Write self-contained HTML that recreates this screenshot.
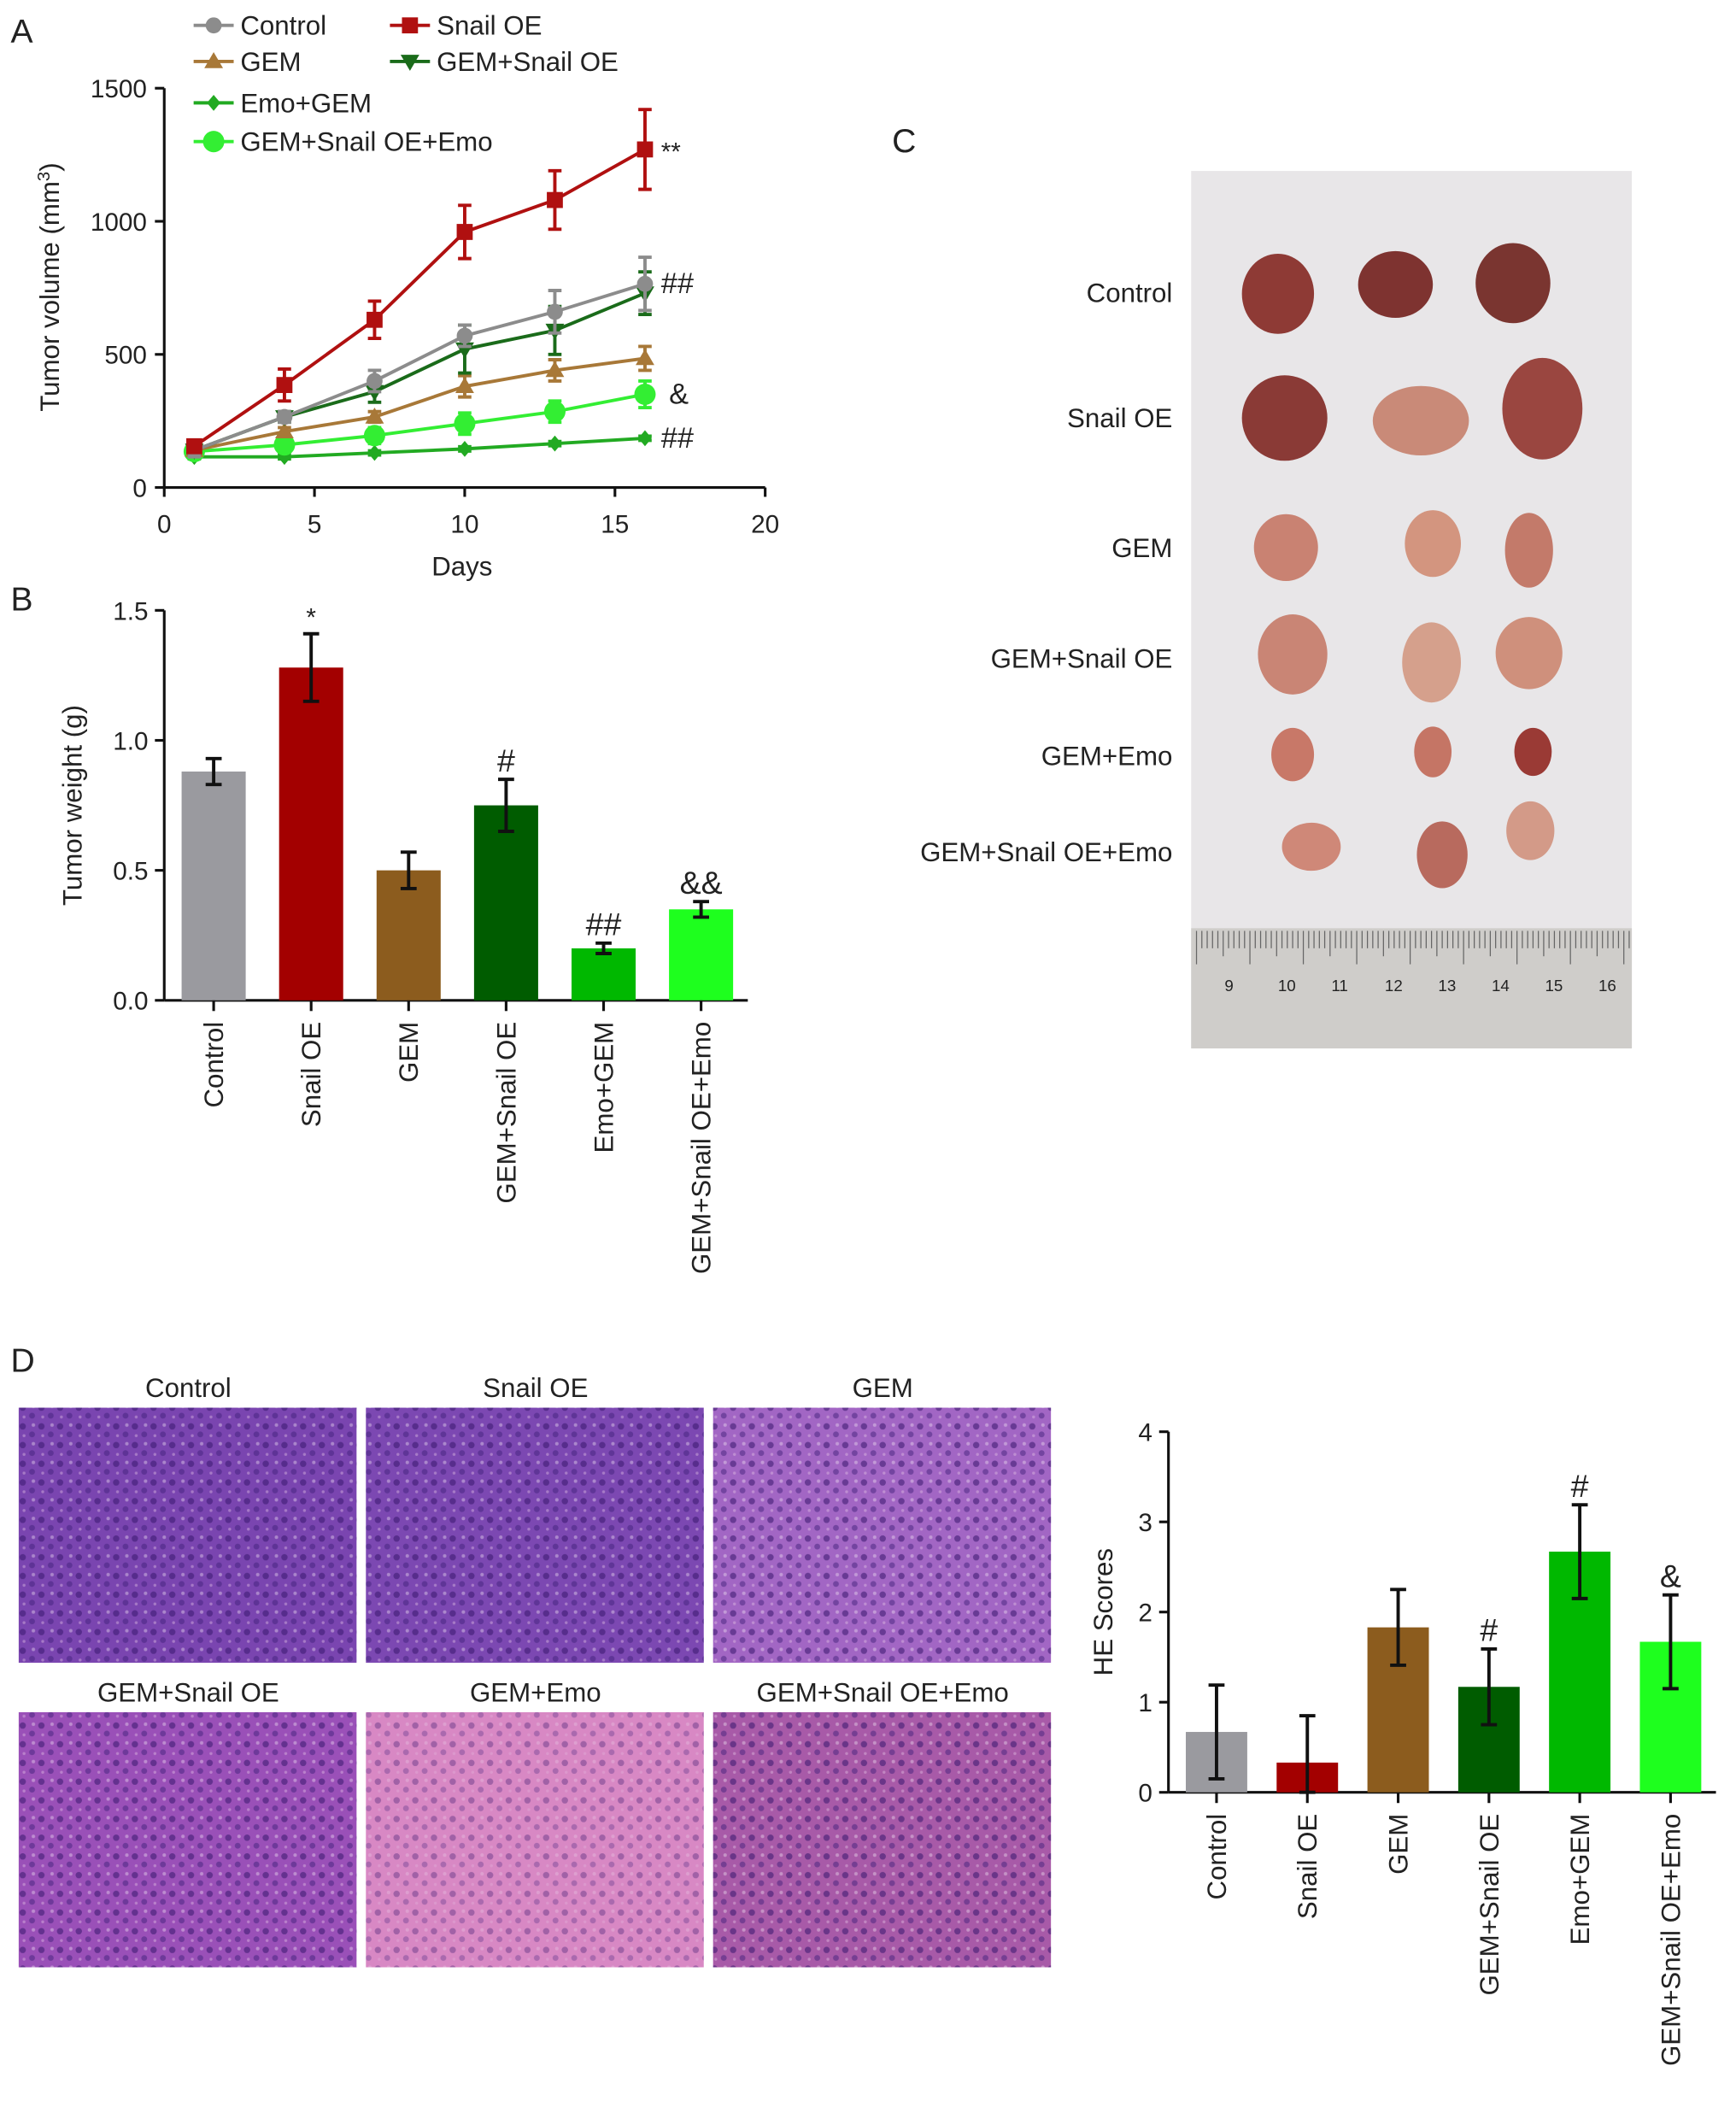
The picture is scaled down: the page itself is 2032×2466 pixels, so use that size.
<!DOCTYPE html>
<html><head><meta charset="utf-8"><style>
html,body{margin:0;padding:0;background:#fff}
svg{display:block}
text{font-family:"Liberation Sans",Arial,sans-serif;fill:#222}
</style></head><body>
<svg id="fig" width="2032" height="2466" viewBox="0 0 1300 1577.6" preserveAspectRatio="none" xmlns="http://www.w3.org/2000/svg">
<defs>
<pattern id="cells" width="14" height="14" patternUnits="userSpaceOnUse">
<circle cx="3" cy="4" r="2.4" fill="#3a1870" opacity="0.7"/>
<circle cx="10" cy="10" r="2.2" fill="#40207a" opacity="0.6"/>
<circle cx="11" cy="3" r="1.3" fill="#f2e6f4" opacity="0.5"/>
<circle cx="4" cy="11" r="1.1" fill="#e8c8e8" opacity="0.5"/>
</pattern>
</defs>
<rect width="1300" height="1578" fill="#fff"/>
<g id="A"></g>
<g id="B"></g>
<g id="C"></g>
<g id="D"></g>
<g id="E"></g>
</svg>
<script>
const NS="http://www.w3.org/2000/svg";
// ---- Panel A data ----
const days=[1,4,7,10,13,16];
const seriesNames=["Control","Snail OE","GEM","GEM+Snail OE","Emo+GEM","GEM+Snail OE+Emo"];
const volControl=[140,265,400,570,660,765];
const volSnail=[155,385,630,960,1080,1270];
const volGem=[140,210,265,380,440,485];
const volGemSnail=[140,265,360,520,590,730];
const volEmoGem=[115,115,130,145,165,185];
const volTriple=[135,160,195,240,285,350];
const errControl=[25,20,40,40,80,100];
const errSnail=[20,60,70,100,110,150];
const errGem=[15,15,20,40,40,45];
const errGemSnail=[15,20,40,90,90,80];
const errEmoGem=[8,8,8,8,8,8];
const errTriple=[15,15,30,40,40,50];
const xTicksA=[0,5,10,15,20];
const yTicksA=[0,500,1000,1500];
const annotA=["**","##","&","##"];
// ---- Panel B data ----
const groups=["Control","Snail OE","GEM","GEM+Snail OE","Emo+GEM","GEM+Snail OE+Emo"];
const weights=[0.88,1.28,0.50,0.75,0.20,0.35];
const weightErr=[0.05,0.13,0.07,0.10,0.02,0.03];
const weightMarks=["","*","","#","##","&&"];
const yTicksB=["0.0","0.5","1.0","1.5"];
// ---- HE data ----
const heScores=[0.67,0.33,1.83,1.17,2.67,1.67];
const heErr=[0.52,0.52,0.42,0.42,0.52,0.52];
const heMarks=["","","","#","#","&"];
const yTicksHE=[0,1,2,3,4];
const colors=["#9a9a9f","#a30000","#8c5c1e","#005c00","#00b800","#1eff1e"];
const lineColors=["#8c8c8c","#b01010","#a87838","#1a6b1a","#22aa22","#33ee33"];

function el(tag,attrs,parent,txt){const e=document.createElementNS(NS,tag);for(const k in attrs)e.setAttribute(k,attrs[k]);if(txt!==undefined)e.textContent=txt;parent.appendChild(e);return e;}

// ----- Panel A -----
const A=document.getElementById('A');
const ax=v=>123+v*22.5, ay=v=>365-v*0.1993;
el('text',{x:8,y:32,'font-size':25},A,'A');
el('line',{x1:123,y1:ay(0),x2:573,y2:ay(0),stroke:'#111','stroke-width':2},A);
el('line',{x1:123,y1:ay(0),x2:123,y2:ay(1500),stroke:'#111','stroke-width':2},A);
xTicksA.forEach(t=>{el('line',{x1:ax(t),x2:ax(t),y1:365,y2:372,stroke:'#111','stroke-width':2},A);
 const tx=el('text',{x:ax(t),y:399,'font-size':19,'text-anchor':'middle'},A,t);});
yTicksA.forEach(t=>{el('line',{x1:116,x2:123,y1:ay(t),y2:ay(t),stroke:'#111','stroke-width':2},A);
 const tx=el('text',{x:110,y:ay(t)+7,'font-size':19,'text-anchor':'end'},A,t);});
const xl=el('text',{x:346,y:431,'font-size':20,'text-anchor':'middle'},A,'Days');
const yl=el('text',{transform:'translate(44,215) rotate(-90)','font-size':20,'text-anchor':'middle'},A);

yl.innerHTML='Tumor volume (mm<tspan dy="-7" font-size="13">3</tspan><tspan dy="7">)</tspan>';
const vols=[volControl,volSnail,volGem,volGemSnail,volEmoGem,volTriple];
const errs=[errControl,errSnail,errGem,errGemSnail,errEmoGem,errTriple];
function marker(i,x,y,g){const c=lineColors[i];
 if(i==0)el('circle',{cx:x,cy:y,r:6,fill:c},g);
 else if(i==1)el('rect',{x:x-6,y:y-6,width:12,height:12,fill:c},g);
 else if(i==2)el('polygon',{points:`${x},${y-7} ${x-7},${y+5} ${x+7},${y+5}`,fill:c},g);
 else if(i==3)el('polygon',{points:`${x},${y+7} ${x-7},${y-5} ${x+7},${y-5}`,fill:c},g);
 else if(i==4)el('polygon',{points:`${x},${y-6} ${x-5},${y} ${x},${y+6} ${x+5},${y}`,fill:c},g);
 else el('circle',{cx:x,cy:y,r:8,fill:c},g);}
[4,5,2,3,0,1].forEach(i=>{
 const g=el('g',{},A);
 el('polyline',{points:days.map((d,j)=>ax(d)+','+ay(vols[i][j])).join(' '),fill:'none',stroke:lineColors[i],'stroke-width':2.5},g);
 days.forEach((d,j)=>{const x=ax(d),y1=ay(vols[i][j]+errs[i][j]),y2=ay(vols[i][j]-errs[i][j]);
  el('path',{d:`M${x},${y1}V${y2}M${x-5},${y1}H${x+5}M${x-5},${y2}H${x+5}`,stroke:lineColors[i],'stroke-width':2.5},g);
  marker(i,x,ay(vols[i][j]),g);});
});
const annY=[volSnail[5],volControl[5],volTriple[5],volEmoGem[5]];
annotA.forEach((s,k)=>{const t=el('text',{x:ax(16)+(k==2?18:12),y:ay(annY[k])+(k==0?8:7),'font-size':k==0?19:22},A,s);});
const legPos=[[145,19],[292,19],[145,46],[292,46],[145,77],[145,106]];
seriesNames.forEach((n,i)=>{const g=el('g',{},A);
 const [x,y]=legPos[i];el('line',{x1:x,x2:x+30,y1:y,y2:y,stroke:lineColors[i],'stroke-width':2.5},g);marker(i,x+15,y,g);
 el('text',{x:x+35,y:y+7,'font-size':20},g,n);});

// ----- bar chart helper -----
function bars(parent,opt){
 const {x0,x1,yb,yt,vmax,centers,w,vals,errv,marks,ticks,ylabel,ylx,lbly,namePre}=opt;
 const sy=v=>yb-(v/vmax)*(yb-yt);
 el('line',{x1:x0,x2:x1,y1:yb,y2:yb,stroke:'#111','stroke-width':2},parent);
 el('line',{x1:x0,x2:x0,y1:yb,y2:yt,stroke:'#111','stroke-width':2},parent);
 ticks.forEach(t=>{const v=parseFloat(t);el('line',{x1:x0-7,x2:x0,y1:sy(v),y2:sy(v),stroke:'#111','stroke-width':2},parent);
  const tx=el('text',{x:x0-12,y:sy(v)+7,'font-size':19,'text-anchor':'end'},parent,t);});
 const yl=el('text',{transform:`translate(${ylx},${(yb+yt)/2}) rotate(-90)`,'font-size':20,'text-anchor':'middle'},parent,ylabel);
 
 vals.forEach((v,i)=>{const c=centers[i];
  const r=el('rect',{x:c-w/2,y:sy(v),width:w,height:yb-sy(v),fill:colors[i]},parent);
  
  const t1=sy(v+errv[i]),t2=sy(Math.max(0,v-errv[i]));
  el('path',{d:`M${c},${t1}V${t2}M${c-6},${t1}H${c+6}M${c-6},${t2}H${c+6}`,stroke:'#111','stroke-width':2.5},parent);
  el('line',{x1:c,x2:c,y1:yb,y2:yb+8,stroke:'#111','stroke-width':2},parent);
  if(marks[i]){const m=el('text',{x:c,y:t1-6,'font-size':marks[i]=='*'?19:24,'text-anchor':'middle'},parent,marks[i]);}
  const lb=el('text',{transform:`translate(${c+7},${lbly}) rotate(-90)`,'font-size':20,'text-anchor':'end'},parent,groups[i]);
  
 });
}
const B=document.getElementById('B');
el('text',{x:8,y:457,'font-size':25},B,'B');
bars(B,{x0:123,x1:560,yb:749,yt:457,vmax:1.5,centers:[160,233,306,379,452,525],w:48,vals:weights,errv:weightErr,marks:weightMarks,ticks:yTicksB,ylabel:'Tumor weight (g)',ylx:61,lbly:765,namePre:'weight'});

const E=document.getElementById('E');
bars(E,{x0:875,x1:1285,yb:1342,yt:1072,vmax:4,centers:[911,979,1047,1115,1183,1251],w:46,vals:heScores,errv:heErr,marks:heMarks,ticks:yTicksHE.map(String),ylabel:'HE Scores',ylx:833,lbly:1358,namePre:'he'});

// ----- Panel C -----
const C=document.getElementById('C');
el('text',{x:668,y:114,'font-size':25},C,'C');
const ph=el('rect',{x:892,y:128,width:330,height:657,fill:'#e8e6e8'},C);
const ru=el('rect',{x:892,y:695,width:330,height:90,fill:'#cfcdca'},C);
for(let k=0;k<82;k++){el('line',{x1:896+k*4,x2:896+k*4,y1:697,y2:k%10==0?722:(k%5==0?716:710),stroke:'#666','stroke-width':0.8},C);}
[9,10,11,12,13,14,15,16].forEach((n,k)=>el('text',{x:917+k*40,y:742,'font-size':12,fill:'#444'},C,n));
const rowLab=["Control","Snail OE","GEM","GEM+Snail OE","GEM+Emo","GEM+Snail OE+Emo"];
const rowY=[219,313,410,493,566,638];
rowLab.forEach((n,i)=>{const t=el('text',{x:878,y:rowY[i]+7,'font-size':20,'text-anchor':'end'},C,n);});
const tum=[[[957,220,27,30,'#8e3a35'],[1045,213,28,25,'#7e3330'],[1133,212,28,30,'#7a3530']],
[[962,313,32,32,'#8a3a36'],[1064,315,36,26,'#c98a78'],[1155,306,30,38,'#9a4640']],
[[963,410,24,25,'#c98272'],[1073,407,21,25,'#d3957f'],[1145,412,18,28,'#c37a6a']],
[[968,490,26,30,'#c98575'],[1072,496,22,30,'#d5a08c'],[1145,489,25,27,'#cf907c']],
[[968,565,16,20,'#c87868'],[1073,563,14,19,'#c57565'],[1148,563,14,18,'#9a3a35']],
[[982,634,22,18,'#cf8878'],[1080,640,19,25,'#b86a5e'],[1146,622,18,22,'#d39a88']]];
tum.flat().forEach(t=>{const e=el('ellipse',{cx:t[0],cy:t[1],rx:t[2],ry:t[3],fill:t[4]},C);});

// ----- Panel D histology -----
const D=document.getElementById('D');
el('text',{x:8,y:1027,'font-size':25},D,'D');
const titles=["Control","Snail OE","GEM","GEM+Snail OE","GEM+Emo","GEM+Snail OE+Emo"];
const cols=[14,274,534],rowsY=[1054,1282];
const fills=["#7a45b0","#7c48b2","#a266c4","#9a50b8","#d888c4","#a85aa8"];
titles.forEach((n,i)=>{const x=cols[i%3],y=rowsY[Math.floor(i/3)];
 const r=el('rect',{x:x,y:y,width:253,height:191,fill:fills[i]},D);
 el('rect',{x:x,y:y,width:253,height:191,fill:'url(#cells)',opacity:i==4?0.5:0.8},D);
 const t=el('text',{x:x+127,y:y-8,'font-size':20,'text-anchor':'middle'},D,n);
});
</script>
</body></html>
